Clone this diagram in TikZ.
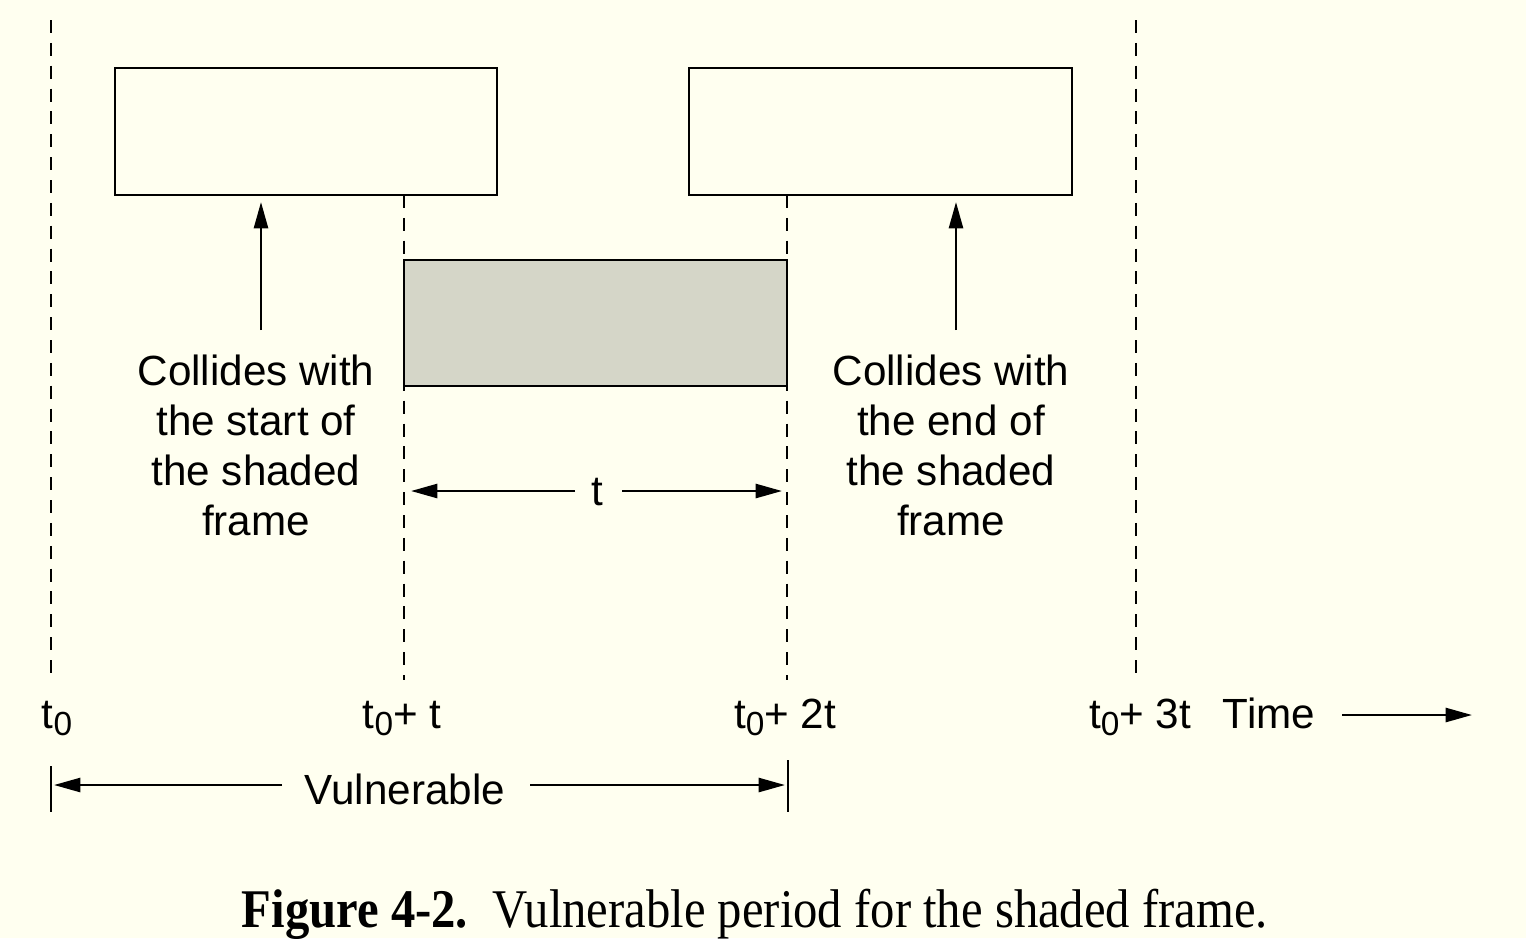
\documentclass[tikz,border=0pt]{standalone}
\usepackage{fontspec}
\setmainfont{Liberation Sans}
\newfontfamily\capfont{Liberation Serif}
\usetikzlibrary{arrows.meta}
\definecolor{bg}{HTML}{FFFFF0}
\definecolor{shade}{HTML}{D5D6C8}
\newcommand{\tsub}{t\raisebox{-0.32ex}{\fontsize{9.5}{10}\selectfont 0}}
\tikzset{
  frm/.style={draw, line width=0.75pt},
  dsh/.style={line width=0.75pt, dash pattern=on 3.7pt off 2.8pt},
  arr/.style={line width=0.7pt, -{Triangle[length=7.5pt,width=4pt]}},
  lbl/.style={font=\fontsize{12}{14.2}\selectfont, inner sep=0pt, align=center},
  bar/.style={line width=0.7pt}
}
\begin{document}
\begin{tikzpicture}[x=0.01cm,y=-0.01cm]
\fill[bg] (0,0) rectangle (1526,938);
\useasboundingbox (0,0) rectangle (1526,938);
% dashed time lines
\coordinate (d0t) at (51,20);   \coordinate (d0b) at (51,680);
\coordinate (d1t) at (404,195); \coordinate (d1b) at (404,680);
\coordinate (d2t) at (787,195); \coordinate (d2b) at (787,680);
\coordinate (d3t) at (1136,20); \coordinate (d3b) at (1136,680);
\draw[dsh] (d0t) -- (d0b);
\draw[dsh] (d1t) -- (d1b);
\draw[dsh] (d2t) -- (d2b);
\draw[dsh] (d3t) -- (d3b);
% frames
\draw[frm] (115,68) rectangle (497,195);
\draw[frm] (689,68) rectangle (1072,195);
\draw[frm, fill=shade] (404,260) rectangle (787,386);
% collision texts
\node[lbl, anchor=north] (cl) at (256,354) {Collides with\\the start of\\the shaded\\frame};
\node[lbl, anchor=north] (cr) at (951,354) {Collides with\\the end of\\the shaded\\frame};
\coordinate (al0) at (261,330); \coordinate (al1) at (261,202);
\coordinate (ar0) at (956,330); \coordinate (ar1) at (956,202);
\draw[arr] (al0) -- (al1);
\draw[arr] (ar0) -- (ar1);
% t dimension
\node[lbl] (tt) at (597,492) {t};
\coordinate (tl) at (411,491); \coordinate (tr) at (782,491);
\draw[arr] (575,491) -- (tl);
\draw[arr] (622,491) -- (tr);
% time labels
\node[lbl, anchor=base] (l0) at (57,728) {\tsub};
\node[lbl, anchor=base] (l1) at (402,728) {\tsub+ t};
\node[lbl, anchor=base] (l2) at (785,728) {\tsub+ 2t};
\node[lbl, anchor=base] (l3) at (1140,728) {\tsub+ 3t};
\node[lbl, anchor=base] (tm) at (1269,728) {Time};
\coordinate (te) at (1472,715);
\draw[arr] (1342,715) -- (te);
% vulnerable
\coordinate (v0t) at (51,766); \coordinate (v0b) at (51,812);
\coordinate (v1t) at (788,760); \coordinate (v1b) at (788,812);
\draw[bar] (v0t) -- (v0b);
\draw[bar] (v1t) -- (v1b);
\node[lbl] (vu) at (405,789) {Vulnerable};
\draw[arr] (282,785) -- (54,785);
\draw[arr] (530,785) -- (785,785);
% caption
\node[anchor=base, inner sep=0pt] (cap) at (755,927) {\scalebox{0.893}[1]{\capfont\fontsize{15.5}{18}\selectfont\textbf{Figure 4-2.}\enspace Vulnerable period for the shaded frame.}};
\end{tikzpicture}
\end{document}
